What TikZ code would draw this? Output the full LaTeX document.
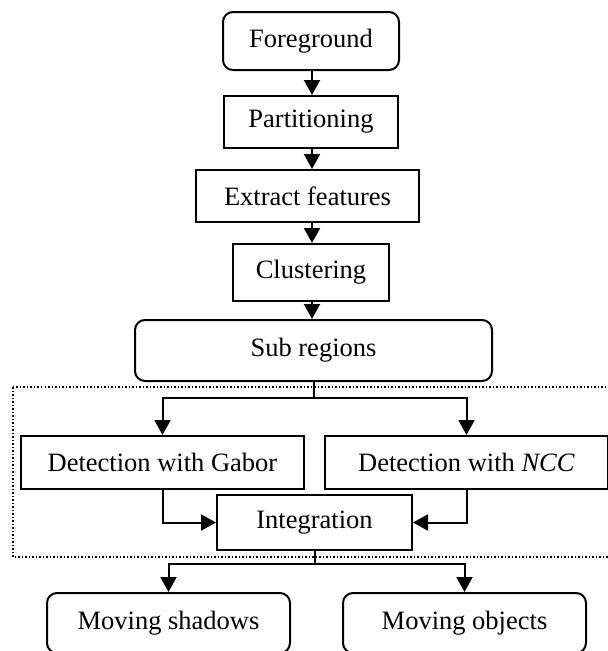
\documentclass[tikz,border=0pt]{standalone}
\usepackage{fontspec}
\setmainfont{Liberation Serif}
\usetikzlibrary{arrows.meta,calc}
\begin{document}
\begin{tikzpicture}[x=1pt,y=-1pt,
  every node/.style={font=\fontsize{26.5}{30}\selectfont},
  sqbox/.style={draw, line width=2pt, rectangle, inner sep=0pt},
  rbox/.style={draw, line width=2pt, rectangle, rounded corners=10pt, inner sep=0pt},
  arr/.style={line width=2pt, -{Triangle[width=16pt,length=15pt]}},
  ln/.style={line width=2pt}]
\useasboundingbox (0,0) rectangle (608,651);
\node[rbox, minimum width=176pt, minimum height=58pt] (fg) at (311,41) {Foreground};
\node[sqbox, minimum width=174pt, minimum height=52pt] (part) at (311,122) {Partitioning};
\node[sqbox, minimum width=223pt, minimum height=52pt] (ext) at (307.5,196) {Extract features};
\node[sqbox, minimum width=156pt, minimum height=57pt] (clu) at (311,272.5) {Clustering};
\node[rbox, minimum width=357pt, minimum height=61pt] (sub) at (313.5,350.5) {Sub regions};
\draw[dotted, line width=1.5pt] (13,387) rectangle (612,557);
\node[sqbox, minimum width=283pt, minimum height=53pt] (gab) at (162.5,462.5) {Detection with Gabor};
\node[sqbox, minimum width=283pt, minimum height=53pt] (ncc) at (466.5,462.5) {Detection with \textit{NCC}};
\node[sqbox, minimum width=195pt, minimum height=55pt] (int) at (314.5,522.5) {Integration};
\node[rbox, minimum width=243pt, minimum height=60pt] (ms) at (168.5,623) {Moving shadows};
\node[rbox, minimum width=243pt, minimum height=60pt] (mo) at (464.5,623) {Moving objects};
\draw[arr] (fg.south -| 312,0) -- (312,0 |- part.north);
\draw[arr] (part.south -| 312,0) -- (312,0 |- ext.north);
\draw[arr] (ext.south -| 312,0) -- (312,0 |- clu.north);
\draw[arr] (clu.south -| 312,0) -- (312,0 |- sub.north);
\coordinate (s1) at ($(sub.south)+(0,16)$);
\draw[ln] (sub.south) -- (s1);
\draw[arr] (s1) -| (gab.north);
\draw[arr] (s1) -| (ncc.north);
\draw[arr] (gab.south) |- (int.west);
\draw[arr] (ncc.south) |- (int.east);
\coordinate (i1) at ($(int.south)+(0,13)$);
\draw[ln] (int.south) -- (i1);
\draw[arr] (i1) -| (ms.north);
\draw[arr] (i1) -| (mo.north);
\end{tikzpicture}
\end{document}
